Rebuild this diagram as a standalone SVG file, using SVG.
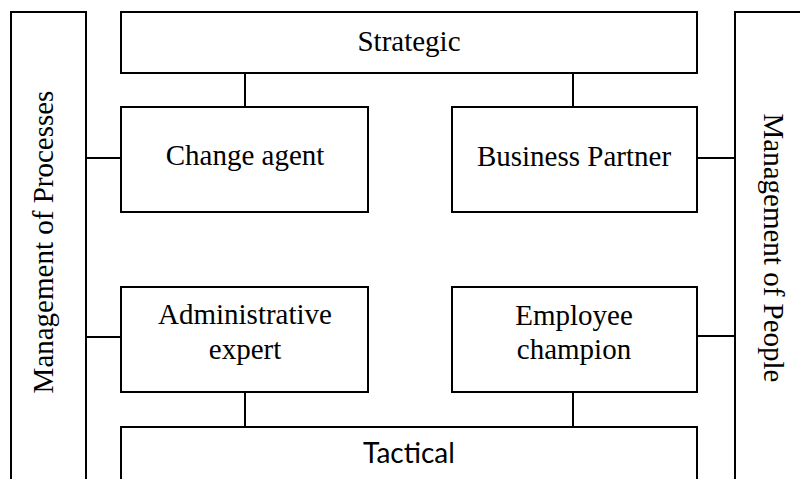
<svg xmlns="http://www.w3.org/2000/svg" width="800" height="479" viewBox="0 0 800 479">
<style>
rect{fill:#fff;stroke:#000;stroke-width:2}
line{stroke:#000;stroke-width:2}
text{font-family:"Liberation Serif","Times New Roman",serif;font-size:29px;fill:#000;text-anchor:middle}
.sans{font-family:Lato,"Liberation Sans",sans-serif;font-size:28px}
</style>
<rect x="0" y="0" width="800" height="479" style="stroke:none"/>
<g id="connectors">
<line x1="86" y1="158" x2="121" y2="158"/>
<line x1="86" y1="337" x2="121" y2="337"/>
<line x1="697" y1="158" x2="735" y2="158"/>
<line x1="697" y1="336" x2="735" y2="336"/>
<line x1="245" y1="73" x2="245" y2="107"/>
<line x1="573" y1="73" x2="573" y2="107"/>
<line x1="245" y1="392" x2="245" y2="427"/>
<line x1="573" y1="392" x2="573" y2="427"/>
</g>
<g id="processes">
<rect x="11" y="12" width="75" height="500"/>
<text transform="translate(53,242) rotate(-90)">Management of Processes</text>
</g>
<g id="people">
<rect x="735" y="12" width="100" height="500"/>
<text transform="translate(764,248) rotate(90)">Management of People</text>
</g>
<g id="strategic">
<rect x="121" y="12" width="576" height="61"/>
<text x="409" y="51">Strategic</text>
</g>
<g id="change-agent">
<rect x="121" y="107" width="247" height="105"/>
<text x="245" y="165">Change agent</text>
</g>
<g id="business-partner">
<rect x="452" y="107" width="245" height="105"/>
<text x="574" y="166">Business Partner</text>
</g>
<g id="administrative-expert">
<rect x="121" y="287" width="247" height="105"/>
<text x="245" y="324">Administrative</text>
<text x="245" y="359">expert</text>
</g>
<g id="employee-champion">
<rect x="452" y="287" width="245" height="105"/>
<text x="574" y="325">Employee</text>
<text x="574" y="359">champion</text>
</g>
<g id="tactical">
<rect x="121" y="427" width="576" height="100"/>
<text class="sans" x="409" y="463">Tactical</text>
</g>
</svg>
